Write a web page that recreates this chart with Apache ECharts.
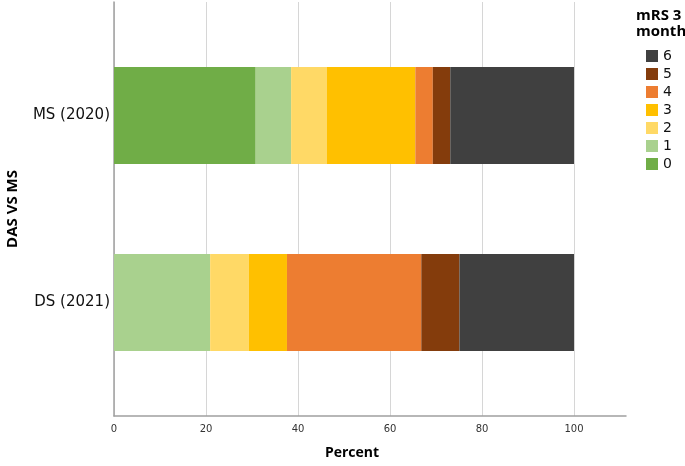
<!DOCTYPE html>
<html>
<head>
<meta charset="utf-8">
<script src="https://cdn.jsdelivr.net/npm/echarts@6/dist/echarts.min.js"></script>
<style>
html,body{margin:0;padding:0;background:#fff;}
#c{width:685px;height:466px;}
</style>
</head>
<body>
<div id="c"></div>
<script>
// Data (percent of patients by mRS score at 3 months)
var categories = ['MS (2020)', 'DS (2021)'];
var mrs0 = [30.8, 0];
var mrs1 = [7.7, 20.9];
var mrs2 = [7.8, 8.4];
var mrs3 = [19.2, 8.3];
var mrs4 = [3.8, 29.2];
var mrs5 = [3.8, 8.3];
var mrs6 = [26.9, 24.9];
var scoreNames = ['0', '1', '2', '3', '4', '5', '6'];
var scoreColors = ['#70AD47', '#A9D18E', '#FFD966', '#FFC000', '#ED7D31', '#843C0C', '#404040'];
var xTicks = [0, 20, 40, 60, 80, 100];

var seriesValues = [mrs0, mrs1, mrs2, mrs3, mrs4, mrs5, mrs6];
var FONT = 'Open Sans';
var FONT2 = 'DejaVu Sans';
var AXIS_MAX = 111.3;

var chart = echarts.init(document.getElementById('c'));
var series = scoreNames.map(function (n, i) {
  return {
    name: n, type: 'bar', stack: 'total',
    xAxisIndex: 0, yAxisIndex: 0,
    barWidth: 97,
    itemStyle: { color: scoreColors[i] },
    data: seriesValues[i]
  };
});

chart.setOption({
  animation: false,
  backgroundColor: '#fff',
  title: {
    text: 'mRS 3\nmonth',
    left: 636, top: 8, padding: 0,
    textStyle: { fontFamily: FONT, fontSize: 15, fontWeight: 'bold', color: '#000', lineHeight: 16, align: 'center' }
  },
  legend: {
    data: scoreNames.slice().reverse(),
    orient: 'vertical', left: 646, top: 49, padding: 0,
    icon: 'rect', itemWidth: 12, itemHeight: 12, itemGap: 4,
    textStyle: { fontFamily: FONT2, fontSize: 14, color: '#111' }
  },
  grid: [
    { left: 114, width: 512, top: 22, height: 374, outerBoundsMode: 'none', containLabel: false },   // bars
    { left: 114, width: 512, top: 2, height: 414, outerBoundsMode: 'none', containLabel: false },    // x axis line + labels
    { left: 114, width: 460, top: 2, height: 414, outerBoundsMode: 'none', containLabel: false }     // gridlines + y axis line
  ],
  xAxis: [
    { gridIndex: 0, type: 'value', min: 0, max: AXIS_MAX, show: false },
    {
      gridIndex: 1, type: 'value', min: 0, max: AXIS_MAX, interval: 20,
      axisLine: { show: true, lineStyle: { color: '#a0a0a0', width: 1.5 } },
      axisTick: { show: false }, splitLine: { show: false },
      axisLabel: {
        margin: 8, fontFamily: FONT2, fontSize: 10, color: '#333',
        formatter: function (v) { return xTicks.indexOf(v) >= 0 ? String(v) : ''; }
      }
    },
    {
      gridIndex: 2, type: 'value', min: 0, max: 100, interval: 20,
      axisLine: { show: false }, axisTick: { show: false }, axisLabel: { show: false },
      splitLine: { show: true, lineStyle: { color: '#d6d6d6', width: 1 } },
      name: 'Percent', nameLocation: 'middle', nameGap: 30,
      nameTextStyle: { fontFamily: FONT, fontSize: 14, fontWeight: 'bold', color: '#000', padding: [0, 0, 0, 16] }
    }
  ],
  yAxis: [
    {
      gridIndex: 0, type: 'category', data: categories, inverse: true,
      axisLine: { show: false }, axisTick: { show: false },
      axisLabel: { margin: 4, fontFamily: FONT2, fontSize: 15, color: '#111' }
    },
    { gridIndex: 1, type: 'value', min: 0, max: 1, show: false },
    {
      gridIndex: 2, type: 'value', min: 0, max: 1,
      axisLine: { show: true, onZero: false, lineStyle: { color: '#a0a0a0', width: 1.5 } },
      axisTick: { show: false }, axisLabel: { show: false }, splitLine: { show: false },
      name: 'DAS VS MS', nameLocation: 'middle', nameRotate: 90, nameGap: 94,
      nameTextStyle: { fontFamily: FONT, fontSize: 15, fontWeight: 'bold', color: '#000' }
    }
  ],
  series: series
});
</script>
</body>
</html>
